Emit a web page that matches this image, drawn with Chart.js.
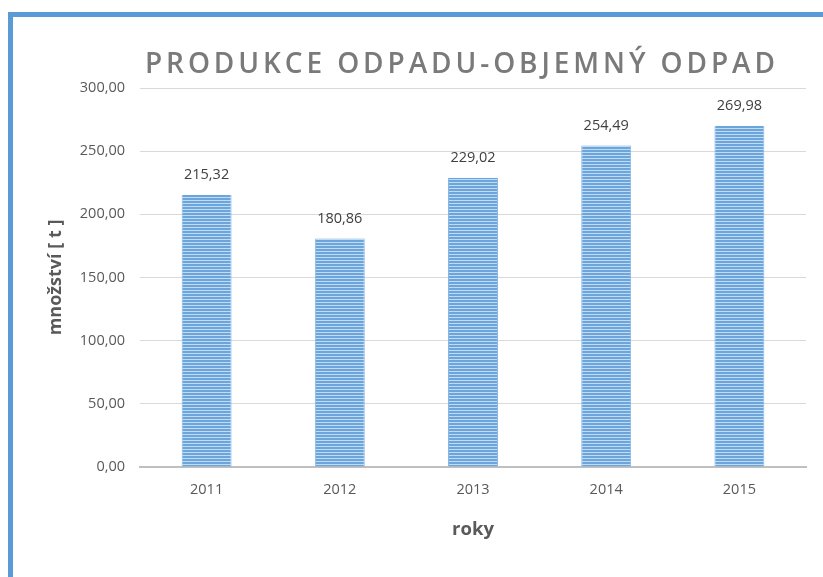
<!DOCTYPE html>
<html>
<head>
<meta charset="utf-8">
<script src="https://cdn.jsdelivr.net/npm/chart.js@4"></script>
<style>
  html, body { margin: 0; padding: 0; background: #fff; }
  #wrap { position: relative; width: 823px; height: 577px; overflow: hidden; }
  #frame { position: absolute; left: 8px; top: 12px; right: -10px; bottom: -10px; border-left: 5px solid #5b9bd5; border-top: 5px solid #5b9bd5; }
  canvas { position: absolute; left: 0; top: 0; }
</style>
</head>
<body>
<div id="wrap">
  <div id="frame"></div>
  <canvas id="c" width="823" height="577"></canvas>
</div>
<script>
const chartTitle = 'PRODUKCE ODPADU-OBJEMNÝ ODPAD';
const years = ['2011', '2012', '2013', '2014', '2015'];
const amounts = [215.32, 180.86, 229.02, 254.49, 269.98];
const yAxisTitle = 'množství [ t ]';
const xAxisTitle = 'roky';

function fmt(v) {
  return v.toFixed(2).replace('.', ',');
}

function makePattern() {
  const p = document.createElement('canvas');
  p.width = 4; p.height = 3;
  const c = p.getContext('2d');
  c.fillStyle = '#6aa6dc'; c.fillRect(0, 0, 4, 2);
  c.fillStyle = '#c3dbf2'; c.fillRect(0, 2, 4, 1);
  return document.getElementById('c').getContext('2d').createPattern(p, 'repeat');
}

const titlePlugin = {
  id: 'spacedTitle',
  afterDraw(chart) {
    const ctx = chart.ctx;
    ctx.save();
    ctx.font = '600 28px "Open Sans"';
    ctx.fillStyle = '#7a7a7a';
    ctx.letterSpacing = '0px';
    const w0 = ctx.measureText(chartTitle).width;
    const target = 630;
    const sp = (target - w0) / (chartTitle.length - 1);
    ctx.letterSpacing = sp + 'px';
    ctx.textAlign = 'left';
    ctx.textBaseline = 'middle';
    ctx.fillText(chartTitle, 145, 65);
    ctx.restore();
  }
};

const labelPlugin = {
  id: 'valueLabels',
  afterDatasetsDraw(chart) {
    const ctx = chart.ctx;
    const meta = chart.getDatasetMeta(0);
    ctx.save();
    ctx.font = '14.5px "Open Sans"';
    ctx.fillStyle = '#404040';
    ctx.textAlign = 'center';
    ctx.textBaseline = 'middle';
    meta.data.forEach((bar, i) => {
      ctx.fillText(fmt(amounts[i]), bar.x, bar.y - 20);
    });
    ctx.restore();
  }
};

new Chart(document.getElementById('c'), {
  type: 'bar',
  data: {
    labels: years,
    datasets: [{
      data: amounts,
      backgroundColor: makePattern(),
      borderColor: '#86b6e4',
      borderWidth: { left: 1, right: 1, top: 0, bottom: 0 },
      categoryPercentage: 1,
      barPercentage: 0.375
    }]
  },
  options: {
    responsive: false,
    animation: false,
    events: [],
    layout: { padding: { left: 0, top: 88, right: 17, bottom: 0 } },
    plugins: {
      legend: { display: false },
      tooltip: { enabled: false },
      title: { display: false }
    },
    scales: {
      x: {
        grid: { display: false, drawTicks: false },
        border: { display: true, color: '#bfbfbf', width: 2 },
        ticks: { color: '#595959', font: { family: 'Open Sans', size: 14.5 }, padding: 14 },
        title: { display: true, text: xAxisTitle, color: '#595959', font: { family: 'Open Sans', size: 18.5, weight: 'bold' }, padding: { top: 0, bottom: 36 } },
        afterFit(s) { s.height = 110; }
      },
      y: {
        min: 0, max: 300,
        ticks: { stepSize: 50, color: '#595959', font: { family: 'Open Sans', size: 14.5 }, padding: 15, callback: v => fmt(v) },
        grid: { color: '#d9d9d9', drawTicks: false },
        border: { display: false },
        title: { display: true, text: yAxisTitle, color: '#595959', font: { family: 'Open Sans', size: 18, weight: 'bold' }, padding: { top: 45, bottom: 0 } },
        afterFit(s) { s.width = 140; }
      }
    }
  },
  plugins: [titlePlugin, labelPlugin]
});
</script>
</body>
</html>
